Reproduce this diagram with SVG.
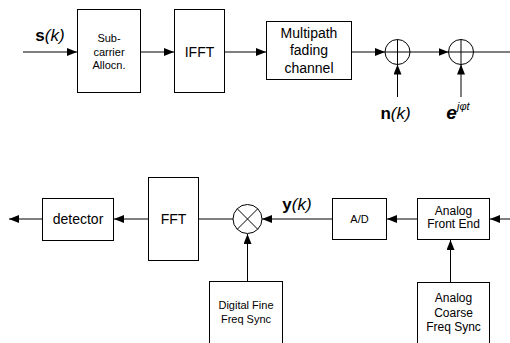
<svg xmlns="http://www.w3.org/2000/svg" width="510" height="343" viewBox="0 0 510 343">
<defs>
<marker id="ah" viewBox="0 0 10 8" refX="10" refY="4" markerWidth="10" markerHeight="8" markerUnits="userSpaceOnUse" orient="auto">
<path d="M0,0 L10,4 L0,8 Z" fill="#000"/>
</marker>
<style>
.box{fill:#fff;stroke:#000;stroke-width:1}
.ln{fill:none;stroke:#000;stroke-width:1}
.ar{fill:none;stroke:#000;stroke-width:1;marker-end:url(#ah)}
text{font-family:"Liberation Sans",Arial,sans-serif;fill:#000;text-anchor:middle}
.t14{font-size:14px}
.t12{font-size:12px}
.t11{font-size:11px}
.lbl{font-size:17px}
</style>
</defs>
<rect width="510" height="343" fill="#fff"/>
<g id="connectors">
<line class="ar" x1="23" y1="52" x2="77" y2="52"/>
<line class="ar" x1="140" y1="52" x2="174" y2="52"/>
<line class="ar" x1="224" y1="52" x2="266" y2="52"/>
<line class="ar" x1="352" y1="52" x2="385" y2="52"/>
<line class="ar" x1="410" y1="52" x2="448.5" y2="52"/>
<line class="ln" x1="473.5" y1="52" x2="510" y2="52"/>
<line class="ar" x1="397.5" y1="97" x2="397.5" y2="64.5"/>
<line class="ar" x1="461" y1="97" x2="461" y2="64.5"/>
<line class="ar" x1="510" y1="219" x2="490" y2="219"/>
<line class="ar" x1="417" y1="219" x2="387" y2="219"/>
<line class="ar" x1="332" y1="219" x2="262" y2="219"/>
<line class="ln" x1="233" y1="219" x2="199" y2="219"/>
<line class="ar" x1="148" y1="219" x2="114" y2="219"/>
<line class="ar" x1="42" y1="219" x2="9" y2="219"/>
<line class="ar" x1="450.5" y1="282" x2="450.5" y2="240"/>
<line class="ar" x1="247.5" y1="281" x2="247.5" y2="234"/>
</g>
<g id="subcarrier">
<rect class="box" x="77.5" y="9.5" width="63" height="83"/>
<text class="t11" x="109" y="42">Sub-</text>
<text class="t11" x="109" y="55.5">carrier</text>
<text class="t11" x="109" y="69">Allocn.</text>
</g>
<g id="ifft">
<rect class="box" x="174.5" y="9.5" width="50" height="83"/>
<text class="t14" x="199.5" y="57">IFFT</text>
</g>
<g id="multipath">
<rect class="box" x="266.5" y="21.5" width="85" height="58"/>
<text class="t14" x="309" y="38">Multipath</text>
<text class="t14" x="309" y="55">fading</text>
<text class="t14" x="309" y="73">channel</text>
</g>
<g id="sum1">
<circle class="ln" cx="397.5" cy="52" r="12.5"/>
<line class="ln" x1="385" y1="52" x2="410" y2="52"/>
<line class="ln" x1="397.5" y1="39.5" x2="397.5" y2="64.5"/>
</g>
<g id="sum2">
<circle class="ln" cx="461" cy="52" r="12.5"/>
<line class="ln" x1="448.5" y1="52" x2="473.5" y2="52"/>
<line class="ln" x1="461" y1="39.5" x2="461" y2="64.5"/>
</g>
<g id="labels">
<text class="lbl" x="50" y="41"><tspan font-weight="bold">s</tspan><tspan font-style="italic">(k)</tspan></text>
<text class="lbl" x="395.5" y="119"><tspan font-weight="bold">n</tspan><tspan font-style="italic">(k)</tspan></text>
<text x="458" y="119" style="font-size:19px"><tspan font-weight="bold" font-style="italic">e</tspan><tspan font-style="italic" font-size="11px" dy="-9">jφt</tspan></text>
<text class="lbl" x="297" y="210"><tspan font-weight="bold">y</tspan><tspan font-style="italic">(k)</tspan></text>
</g>
<g id="detector">
<rect class="box" x="42.5" y="198.5" width="71" height="42"/>
<text class="t14" x="78" y="224">detector</text>
</g>
<g id="fft">
<rect class="box" x="148.5" y="177.5" width="50" height="83"/>
<text class="t14" x="173.5" y="224">FFT</text>
</g>
<g id="mult">
<circle class="ln" cx="247.5" cy="219" r="14.5"/>
<line class="ln" x1="237.25" y1="208.75" x2="257.75" y2="229.25"/>
<line class="ln" x1="237.25" y1="229.25" x2="257.75" y2="208.75"/>
</g>
<g id="ad">
<rect class="box" x="332.5" y="198.5" width="54" height="41"/>
<text class="t11" x="359.5" y="223">A/D</text>
</g>
<g id="afe">
<rect class="box" x="417.5" y="198.5" width="72" height="41"/>
<text class="t12" x="453.5" y="215">Analog</text>
<text class="t12" x="453.5" y="228">Front End</text>
</g>
<g id="finesync">
<rect class="box" x="209.5" y="281.5" width="73" height="70"/>
<text class="t11" x="246" y="309">Digital Fine</text>
<text class="t11" x="246" y="323">Freq Sync</text>
</g>
<g id="coarsesync">
<rect class="box" x="417.5" y="282.5" width="72" height="70"/>
<text class="t12" x="453.5" y="302">Analog</text>
<text class="t12" x="453.5" y="317">Coarse</text>
<text class="t12" x="453.5" y="331">Freq Sync</text>
</g>
</svg>
